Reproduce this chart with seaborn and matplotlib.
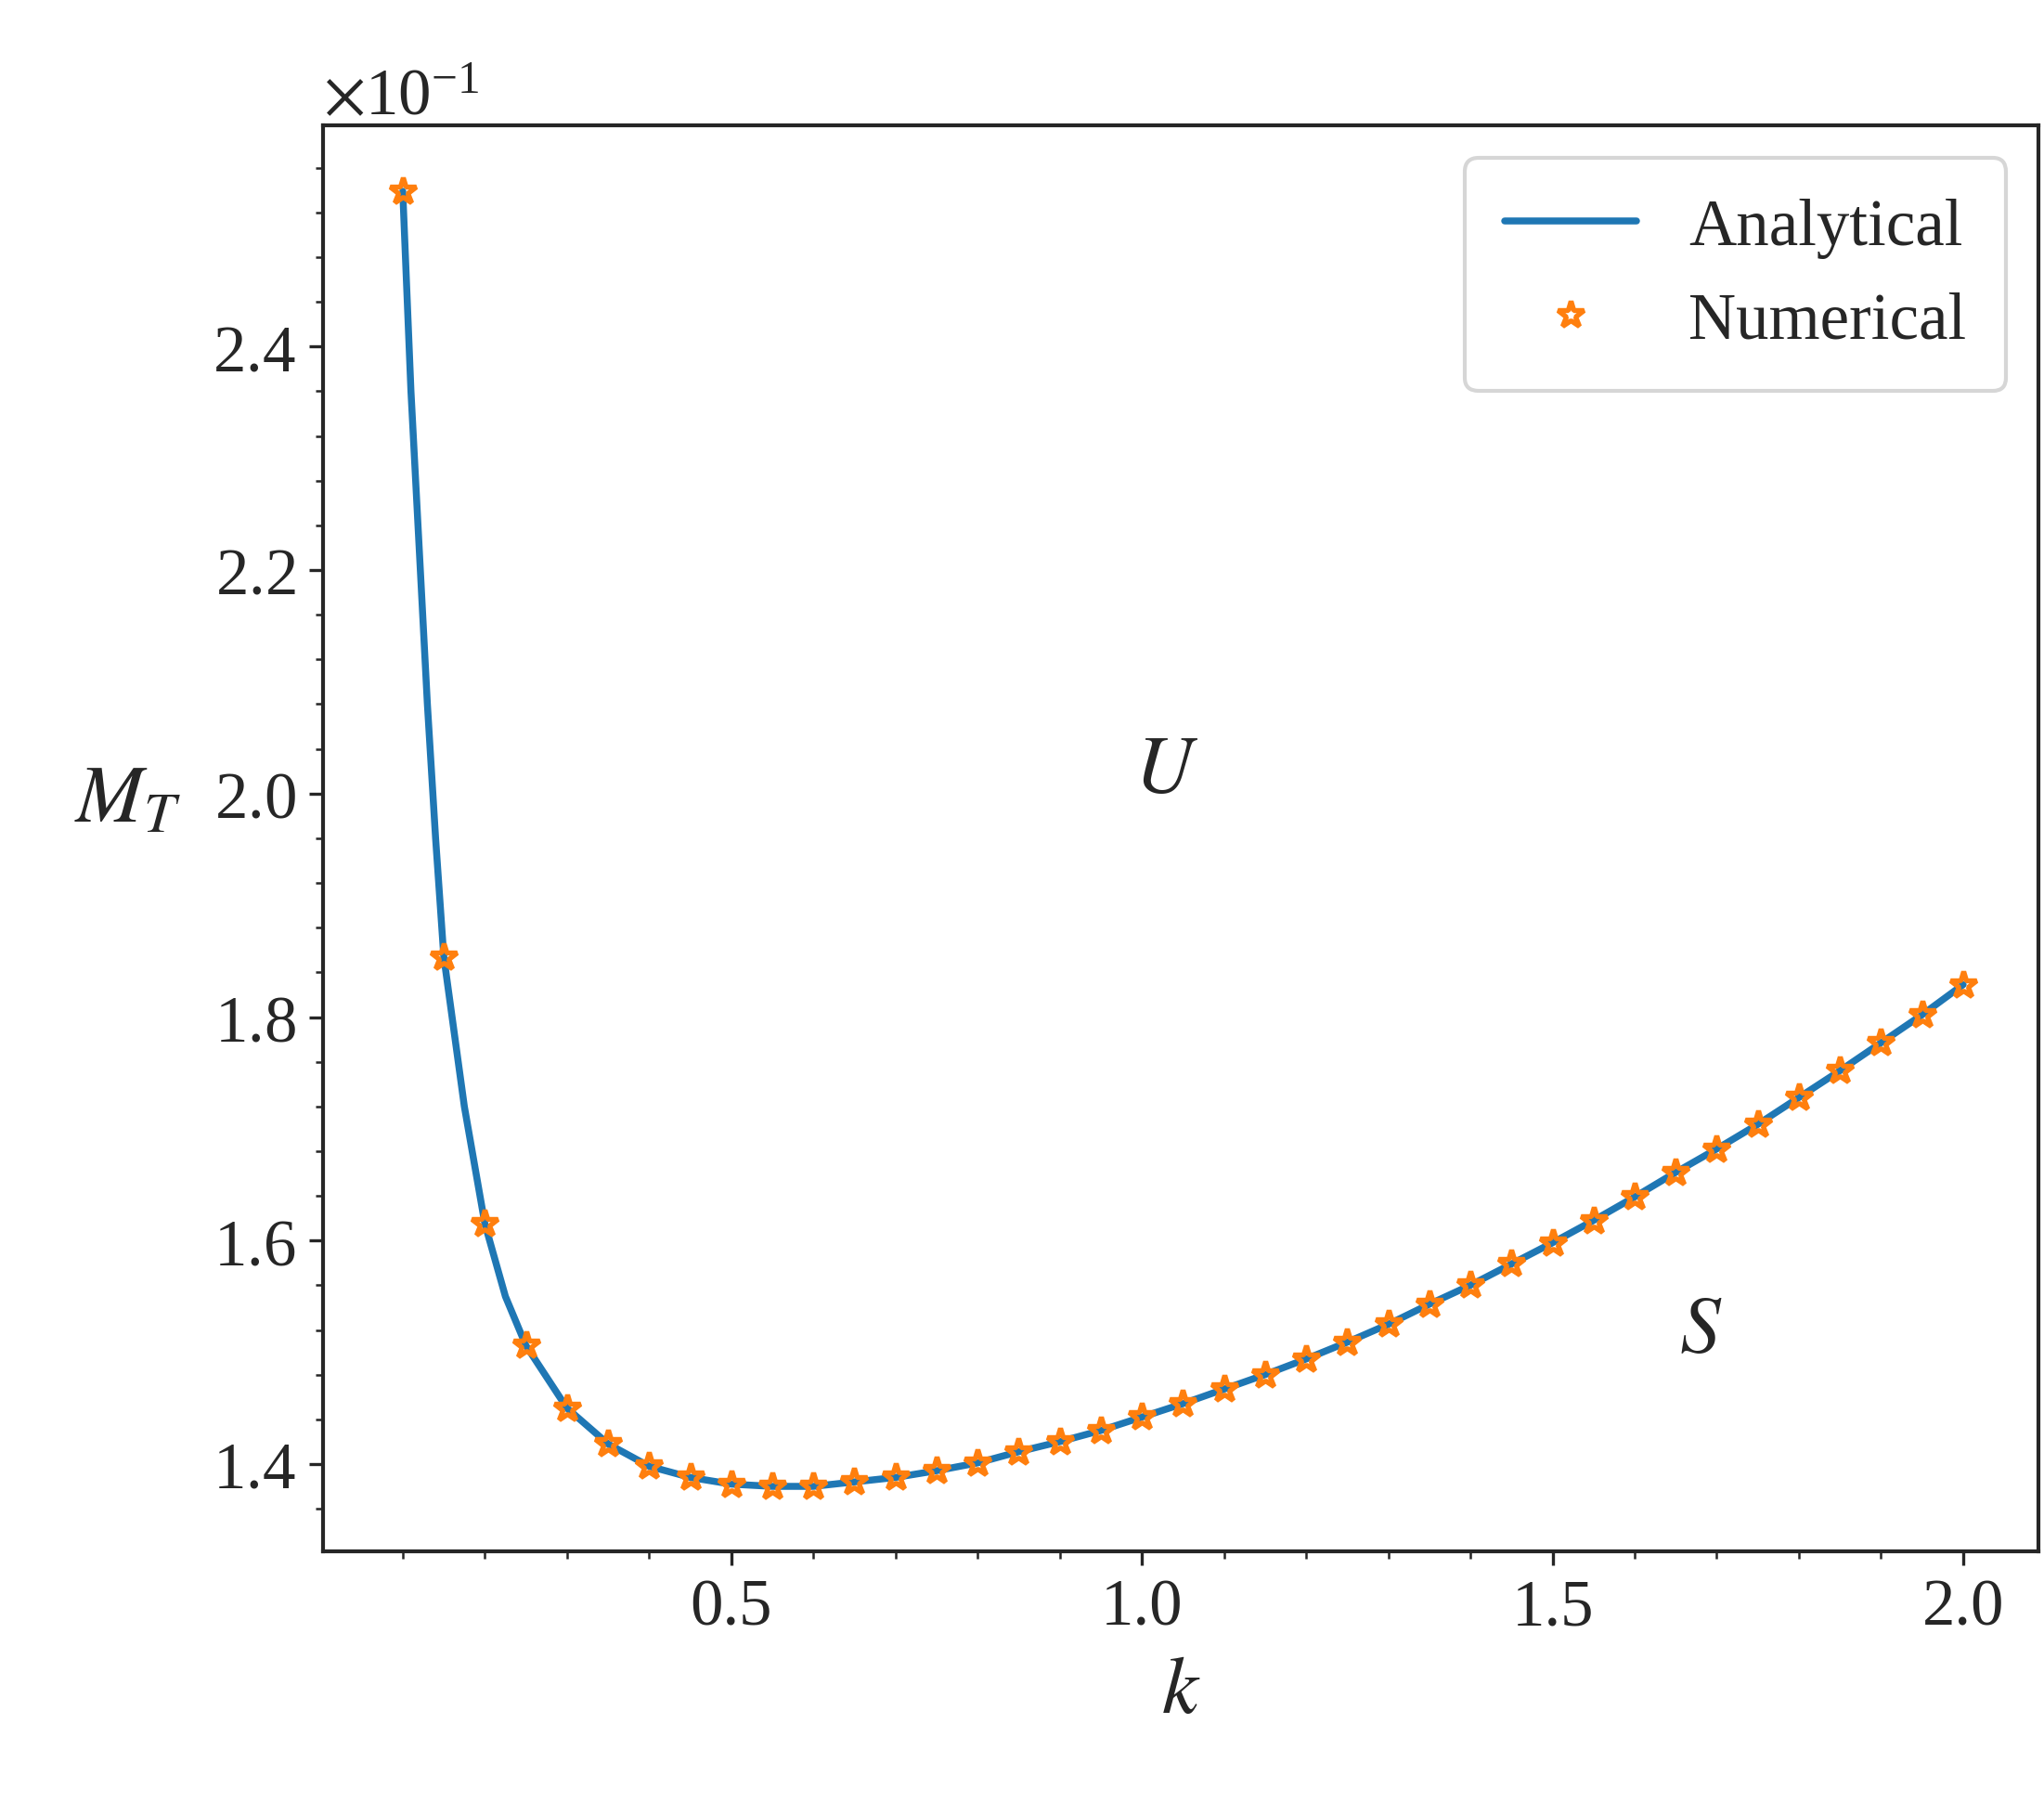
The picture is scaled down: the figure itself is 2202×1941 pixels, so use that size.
import numpy as np
import matplotlib
matplotlib.use("Agg")
import matplotlib.pyplot as plt
import seaborn as sns
from matplotlib.ticker import MultipleLocator, ScalarFormatter

k_num = [0.10,0.15,0.20,0.25,0.30,0.35,0.40,0.45,0.50,0.55,0.60,0.65,0.70,0.75,0.80,0.85,0.90,0.95,
         1.00,1.05,1.10,1.15,1.20,1.25,1.30,1.35,1.40,1.45,1.50,1.55,1.60,1.65,1.70,1.75,1.80,1.85,1.90,1.95,2.00]
m_num = [2.539,1.854,1.615,1.506,1.450,1.418,1.398,1.388,1.382,1.380,1.380,1.384,1.388,1.394,1.401,1.411,
         1.420,1.430,1.442,1.454,1.467,1.480,1.494,1.509,1.525,1.543,1.560,1.579,1.598,1.618,1.639,1.661,
         1.682,1.704,1.728,1.752,1.777,1.802,1.829]
k_extra = [0.11,0.12,0.13,0.14,0.175,0.225]
m_extra = [2.36,2.22,2.08,1.96,1.72,1.55]

k_line = np.array(k_num + k_extra)
m_line = np.array(m_num + m_extra)
order = np.argsort(k_line)
k_line, m_line = k_line[order], m_line[order] * 0.1
m_pts = np.array(m_num) * 0.1

sns.set_style("ticks")
plt.rcParams['font.family'] = ['Liberation Serif', 'DejaVu Serif']
plt.rcParams['mathtext.fontset'] = 'stix'

fig, ax = plt.subplots(figsize=(7.343, 6.473), dpi=300)
sns.lineplot(x=k_line, y=m_line, ax=ax, color='#1f77b4', lw=1.8, label='Analytical', sort=True)
ax.plot(k_num, m_pts, ls='none', marker='*', ms=7, mfc='none', mec='#ff7f0e', mew=1.3, label='Numerical')

ax.set_xlim(0.003, 2.092)
ax.set_ylim(0.1322, 0.2598)
ax.xaxis.set_major_locator(MultipleLocator(0.5))
ax.xaxis.set_minor_locator(MultipleLocator(0.1))
ax.yaxis.set_major_locator(MultipleLocator(0.02))
ax.yaxis.set_minor_locator(MultipleLocator(0.004))
fmt = ScalarFormatter(useMathText=True)
fmt.set_powerlimits((0, 0))
ax.yaxis.set_major_formatter(fmt)
ax.yaxis.get_offset_text().set_fontsize(17)
ax.tick_params(labelsize=17)
for s in ax.spines.values():
    s.set_visible(True)
    s.set_linewidth(1.0)

ax.set_xlabel('$k$', fontsize=21)
ax.set_ylabel('$M_T$', fontsize=21, rotation=0, labelpad=22)
ax.text(1.03, 0.202, '$U$', fontsize=21, ha='center', va='center')
ax.text(1.68, 0.1518, '$S$', fontsize=21, ha='center', va='center')
ax.legend(loc='upper right', fontsize=17, frameon=True, borderpad=0.6)

fig.subplots_adjust(left=0.158, right=0.997, top=0.93, bottom=1 - 1188 / 1380)
fig.savefig('out.png', dpi=300)
